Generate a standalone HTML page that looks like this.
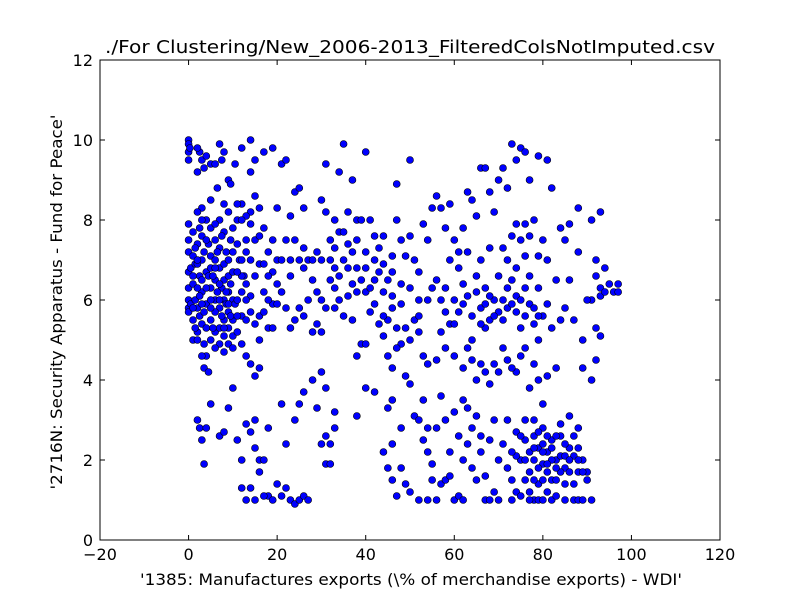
<!DOCTYPE html>
<html><head><meta charset="utf-8"><style>body{margin:0;background:#fff}svg{display:block;font-family:"DejaVu Sans","Liberation Sans",sans-serif}</style></head>
<body>
<svg id="chart" width="800" height="600" viewBox="0 0 800 600" xmlns="http://www.w3.org/2000/svg">
<rect width="800" height="600" fill="#fff"/>
<text x="410" y="53" text-anchor="middle" font-size="18" textLength="610" lengthAdjust="spacingAndGlyphs">./For Clustering/New_2006-2013_FilteredColsNotImputed.csv</text>
<g id="marks"></g>
<rect x="100" y="60" width="620" height="480" fill="none" stroke="#000" stroke-width="1"/>
<g id="axes"></g>
<text x="411" y="585" text-anchor="middle" font-size="16" textLength="542" lengthAdjust="spacingAndGlyphs">'1385: Manufactures exports  (\% of merchandise exports) - WDI'</text>
<text transform="translate(62,302) rotate(-90)" text-anchor="middle" font-size="16" textLength="375" lengthAdjust="spacingAndGlyphs">'2716N: Security Apparatus - Fund for Peace'</text>
</svg>
<script>
const xTicks = [-20,0,20,40,60,80,100,120];
const yTicks = [0,2,4,6,8,10,12];
const highLeft = [[0,10],[0,9.9],[0,9.7],[0,9.5],[0.3,9.8],[0,7.9],[0,7.5],[0,7.2],[0,6.7],[0,6.3],[0,6.0],[0,5.8],[0,5.7],[0.5,6.8],[0.5,5.9],
[2,9.2],[2.5,9.7],[3,9.5],[3.5,9.3],[2,9.8],[4,9.6],[5,9.4],[3,8.3],[2,8.2],[1,7.7],[2,7.4],[3,7.0],[1.5,6.9],[2.5,6.6],[1,6.4],[3,6.2],[1.5,6.0],[2,5.8],[1,5.5],[3,5.4],[2,5.2],[3.5,4.9],[4,4.6],[3,4.6],[3.5,4.3],[4.5,4.2],[2.5,5.6],[4,5.9],[4,6.7],[5,7.1],
[5,7.8],[6,7.5],[7,8.0],[8,8.4],[9,8.2],[6,7.0],[7,6.8],[8,6.5],[9,6.2],[10,6.0],[5,6.3],[6,6.0],[7,5.8],[8,5.5],[9,5.3],[10,5.1],[5,5.5],[6,5.2],[7,4.9],[8,4.7],[9,4.9],[10,4.8],[6,5.7],[7.5,6.3],[8.5,7.2],[9.5,7.5],[10,7.8],[5,8.5],[6,9.4],[7,9.9],[8,9.7],[9,9.0],[9.5,8.9],[7.5,9.5],[6.5,8.8],
[1,7.1],[2,6.3],[3,5.9],[4,5.3],[5,6.8],[6,6.5],[7,7.3],[8,6.0],[9,5.7],[1,5.0],[2,6.9],[3,7.6],[4,8.0],[8,7.7],[9,6.6],[5,5.0],[7,5.3],[6,4.8],[8,5.1],[10,5.5]];
const denseLeft = [[1,6.6],[1.5,7.3],[2,7.0],[2.5,6.1],[3,6.5],[3.5,5.7],[4,6.3],[4.5,7.4],[5,6.0],[5.5,5.3],[6,6.8],[6.5,6.2],[7,6.0],[7.5,5.6],[8,6.9],[8.5,5.9],[9,7.0],[9.5,6.4],[10,6.7],[10.5,5.9],[11,6.0],[11.5,7.0],[12,5.6],[12.5,6.6],[13,7.2],[1,5.8],[1.5,5.3],[2,5.0],[2.5,7.8],[3,8.0],[3.5,7.2],[4,7.5],[4.5,6.6],[5,5.8],[5.5,6.6],[6,7.9],[6.5,7.2],[7,6.4],[7.5,7.6],[8,5.3],[8.5,6.2],[9,5.9],[9.5,5.6],[10,7.2],[11,5.6],[12,6.6],[13,6.4],[14,6.1],[15,6.6],[16,5.6],[17,6.2],[18,5.3],[19,5.9],[20,7.0],[15,7.5],[16,6.9],[14,8.2],[13,8.1],[12,8.4],[11,8.0]];
const highMid = [[11,8.4],[12,8.0],[13,7.5],[14,7.0],[15,8.6],[16,8.3],[17,7.8],[18,7.2],[19,6.7],[20,6.4],[11,6.7],[12,6.2],[13,6.0],[14,5.7],[15,5.4],[16,5.0],[17,5.7],[18,6.0],[19,5.3],[20,5.9],[11,5.2],[12,4.9],[13,4.6],[14,4.4],[15,4.1],[16,4.3],[13,5.5],[12,7.0],[14,7.9],[10.5,9.4],[14,10],[15,9.5],[17,9.7],[19,9.8],[12,9.8],[14,9.2],[16,7.6],[18,6.6],[17,6.9],[19,7.5],[20,8.3],[11,7.4],
[21,9.4],[22,9.5],[24,8.7],[25,8.8],[23,8.1],[24,7.5],[25,7.0],[26,6.8],[27,7.0],[28,7.0],[29,6.2],[30,7.0],[31,8.2],[32,7.5],[33,7.3],[34,7.7],[35,7.0],[36,6.8],[37,7.2],[38,7.5],[39,6.5],[40,6.2],[21,6.2],[22,5.8],[23,5.3],[24,5.5],[25,5.8],[26,5.6],[28,5.2],[29,5.4],[30,5.2],[31,5.8],[32,6.5],[33,6.3],[34,6.0],[35,5.6],[36,6.1],[37,5.5],[38,4.6],[39,4.9],[40,4.9],[31,9.4],[34,9.2],[35,9.9],[37,9.0],[40,9.7],[30,8.5],[33,8.0],[36,8.2],[38,8.0],[39,8.0],[26,8.3],[22,7.5],[27,6.0],[21,7.0],[23,6.6],[35,7.7],[38,6.8],[40,7.2],[30,4.2],[31,3.8],[29,7.2],[33,5.8],
[41,8.0],[42,7.6],[43,7.3],[44,6.9],[45,6.5],[46,6.1],[47,8.0],[48,7.5],[49,7.1],[50,7.6],[51,7.0],[52,6.7],[53,7.9],[54,7.5],[41,6.3],[42,5.9],[43,5.4],[44,5.1],[45,5.5],[46,5.8],[47,5.3],[48,4.9],[49,5.3],[50,5.0],[51,5.5],[52,5.2],[53,4.6],[54,4.4],[45,4.6],[46,4.3],[47,4.8],[49,4.1],[50,3.9],[47,8.9],[50,9.5],[55,8.3],[43,6.7],[48,6.4],[52,6.0],[55,6.3],[44,7.6],[46,7.1],[42,6.5],
[23,7.0],[26,7.3],[28,6.5],[30,6.0],[32,7.0],[34,6.6],[36,7.4],[38,6.2],[40,6.8],[42,7.0],[44,6.2],[46,6.7],[48,5.9],[50,6.3],[52,5.6],[54,6.0],[44,5.6],[41,5.7],[37,6.4],[33,6.8]];
const highRight = [[56,8.6],[57,8.3],[58,7.8],[59,8.4],[60,7.5],[61,7.2],[62,7.8],[63,8.7],[64,8.5],[65,8.1],[66,9.3],[67,9.3],[68,8.7],[69,8.2],[70,9.0],[56,6.5],[57,6.0],[58,5.7],[59,5.4],[60,6.0],[61,5.7],[62,6.4],[63,6.1],[64,5.6],[65,6.2],[66,5.8],[67,6.3],[68,5.5],[69,6.0],[70,5.7],[56,4.5],[57,5.2],[58,4.8],[60,4.6],[62,4.3],[63,4.8],[64,4.5],[65,4.0],[66,4.4],[67,4.2],[68,3.9],[69,4.4],[70,4.2],[59,7.0],[61,6.8],[63,7.2],[66,7.0],[68,7.3],[70,6.6],[64,5.0],[67,5.3],
[71,9.3],[72,8.8],[73,9.9],[74,9.5],[75,9.8],[76,9.7],[77,9.0],[79,9.6],[81,9.5],[71,7.3],[72,7.0],[73,7.6],[74,7.9],[75,7.5],[76,7.9],[77,7.6],[78,8.0],[79,7.1],[80,7.5],[81,7.0],[82,8.8],[71,6.0],[72,5.8],[73,6.5],[74,5.7],[75,5.3],[76,6.3],[77,5.9],[78,5.4],[79,5.0],[80,5.6],[81,5.9],[82,5.3],[72,4.5],[74,4.2],[76,4.8],[77,3.8],[78,4.4],[79,4.0],[80,3.4],[81,4.1],[78,3.0],[79,6.3],[74,6.8],[76,7.1],
[83,6.5],[84,7.8],[85,7.5],[86,7.9],[87,5.5],[88,8.3],[89,5.0],[91,8.0],[92,7.0],[93,8.2],[92,6.6],[93,6.1],[94,6.8],[95,6.4],[96,6.2],[97,6.2],[97,6.4],[92,5.3],[93,5.1],[91,6.0],[92,4.5],[91,4.0],[93,6.3],[94,6.2],[84,5.5],[85,5.8],[86,6.5],[88,7.2],[90,6.0],[83,4.3],
[65,6.6],[66,5.4],[67,5.9],[68,6.1],[69,5.6],[71,5.5],[72,6.3],[73,5.9],[74,6.1],[75,6.0],[76,5.6],[77,6.6],[78,5.8],[79,5.6],[71,4.8],[73,4.3],[75,4.6],[62,5.9],[60,5.4],[58,6.3]];
const lowLeft = [[2,3],[2.5,2.8],[3,2.5],[3.5,1.9],[4,2.8],[5,3.4],[7,2.6],[8,2.7],[9,3.3],[10,3.8],[11,2.5],[12,2.0],[12,1.3],[13,2.9],[14,1.3],[14,2.7],[15,3.0],[15,2.3],[16,1.7],[16,2.0],[17,2.0],[18,2.8],[18,1.1],[19,1.0],[20,1.4],[21,1.1],[22,1.3],[22,2.4],[23,1.0],[24,0.9],[25,1.0],[26,1.1],[27,1.0],[25,3.4],[26,3.7],[24,3.0],[21,3.4],[28,4.0],[29,3.3],[30,2.4],[31,1.9],[31,2.6],[32,2.4],[33,3.2],[32,1.9],[33,2.8],[13,1.0],[15,1.0],[17,1.1],
[38,3.1],[40,3.8],[42,3.7],[44,2.2],[45,1.8],[46,2.4],[46,1.5],[47,1.1],[48,1.8],[48,2.8],[49,1.4],[50,1.2],[45,3.3],[46,3.5],[51,3.1],[52,3.0],[53,2.5],[54,2.2],[55,1.9],[52,1.0],[54,1.0],[55,1.5],[53,3.5],[54,2.8]];
const lowRight = [[56,1.0],[57,1.4],[58,1.5],[59,1.6],[60,1.0],[61,1.1],[62,2.0],[63,2.4],[64,1.8],[65,1.5],[66,2.2],[67,1.6],[68,2.5],[69,1.2],[70,2.0],[56,2.8],[57,3.6],[58,3.0],[59,2.2],[60,3.2],[61,2.6],[62,3.5],[63,3.3],[64,2.8],[65,3.1],[66,2.6],[67,1.0],[68,1.0],[69,3.0],[62,1.0],[70,1.0],
[71,2.4],[72,1.8],[73,1.5],[74,1.2],[75,2.0],[76,2.5],[77,1.7],[78,1.0],[79,2.3],[80,1.9],[81,2.2],[82,1.5],[83,2.0],[84,2.6],[85,1.8],[86,2.3],[87,2.1],[88,1.7],[89,2.0],[90,1.5],[91,1.0],[72,3.0],[74,2.7],[76,3.0],[78,2.6],[80,2.8],[82,2.5],[84,2.9],[86,3.1],[88,2.8],[89,4.3],[73,1.0],[75,1.1],[77,1.2],[79,1.0],[80,1.0],[81,1.2],[82,1.0],[83,1.1],[85,1.0],[87,1.0],[88,1.0],[89,1.0],[74,2.1],[76,1.5],[78,2.0],[80,2.2],[82,2.0],[84,2.1],[86,1.7],[88,2.3],[90,1.7],[79,1.4],[81,1.7],[83,1.5],[85,2.4],[87,1.4],[77,2.2],[75,2.6],[73,2.2],
[76,2.0],[77,1.0],[78,1.5],[79,2.7],[80,1.5],[81,2.6],[82,2.3],[83,2.6],[84,1.7],[85,2.1],[86,2.0],[87,2.6],[88,2.0],[89,1.7],[78,2.3],[80,2.4],[79,1.8],[81,1.9],[83,1.8],[85,1.4]];

const X0=100,X1=720,Y0=540,Y1=60;
function sx(v){return X0+(v-(-20))/(140)*(X1-X0);}
function sy(v){return Y0-(v-0)/12*(Y0-Y1);}
const NS='http://www.w3.org/2000/svg';
const marks=document.getElementById('marks');
[highLeft,denseLeft,highMid,highRight,lowLeft,lowRight].forEach(group=>{
  group.forEach(p=>{
    const c=document.createElementNS(NS,'circle');
    c.setAttribute('cx',sx(p[0]));c.setAttribute('cy',sy(p[1]));c.setAttribute('r',3.5);
    c.setAttribute('fill','#0000ff');c.setAttribute('stroke','#000');c.setAttribute('stroke-width','0.6');
    
    
    marks.appendChild(c);
  });
});
const axes=document.getElementById('axes');
function line(x1,y1,x2,y2){const l=document.createElementNS(NS,'line');l.setAttribute('x1',x1);l.setAttribute('y1',y1);l.setAttribute('x2',x2);l.setAttribute('y2',y2);l.setAttribute('stroke','#000');axes.appendChild(l);return l;}
function txt(x,y,s,anchor){const t=document.createElementNS(NS,'text');t.setAttribute('x',x);t.setAttribute('y',y);t.setAttribute('text-anchor',anchor);t.setAttribute('font-size','16');t.textContent=s;axes.appendChild(t);return t;}
xTicks.forEach(v=>{
  const x=sx(v);
  const t1=line(x,Y0,x,Y0-5);
  
  
  line(x,Y1,x,Y1+5);
  const lb=txt(x,560,String(v).replace('-','\u2212'),'middle');
  
  
});
yTicks.forEach(v=>{
  const y=sy(v);
  const t1=line(X0,y,X0+5,y);
  
  
  line(X1,y,X1-5,y);
  const lb=txt(93,y+6,String(v),'end');
  
  
});
</script>
</body></html>
